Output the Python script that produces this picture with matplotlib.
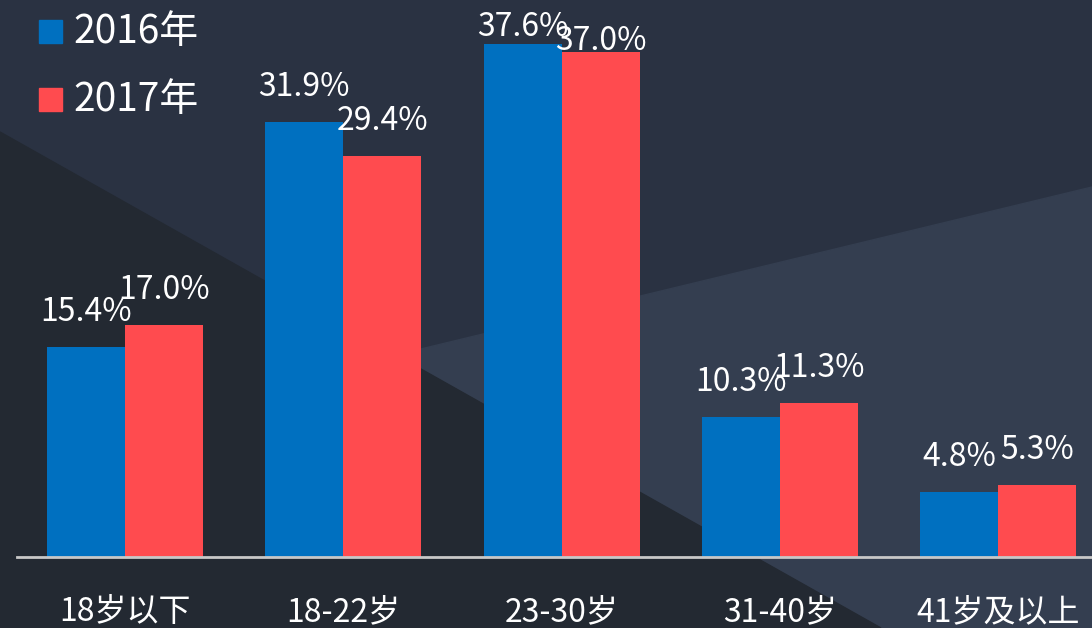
import numpy as np
import matplotlib
matplotlib.use('Agg')
import matplotlib.pyplot as plt
from matplotlib.patches import Polygon, Rectangle

plt.rcParams['font.family'] = ['Noto Sans CJK SC', 'DejaVu Sans']

categories = ['18岁以下', '18-22岁', '23-30岁', '31-40岁', '41岁及以上']
v2016 = [15.4, 31.9, 37.6, 10.3, 4.8]
v2017 = [17.0, 29.4, 37.0, 11.3, 5.3]
series_names = ['2016年', '2017年']
colors = ['#0070c0', '#ff4b4f']

W, H = 1092, 628
fig = plt.figure(figsize=(W / 100, H / 100), dpi=100)
fig.patch.set_facecolor('#2a3242')

# background shapes on a pixel-scaled axes behind everything
bg = fig.add_axes([0, 0, 1, 1], zorder=0)
bg.set_xlim(0, W)
bg.set_ylim(H, 0)
bg.axis('off')
bg.add_patch(Polygon([(396, 355), (1092, 187), (1092, 628), (881, 628)], closed=True, color='#343e50'))
bg.add_patch(Polygon([(0, 132), (881, 628), (0, 628)], closed=True, color='#232932'))

# legend
for i, (name, c) in enumerate(zip(series_names, colors)):
    top = 20 + i * 68
    bg.add_patch(Rectangle((39, top), 23, 23, color=c))
    bg.text(73, top + 11.5, name, color='white', fontsize=28, ha='left', va='center')

ax = fig.add_axes([17 / W, 1 - 557 / H, 1075 / W, 557 / H], zorder=1)
ax.set_facecolor('none')

x = np.arange(len(categories))
w = 0.357
b1 = ax.bar(x - w / 2, v2016, w, color=colors[0], zorder=2)
b2 = ax.bar(x + w / 2, v2017, w, color=colors[1], zorder=2)

ax.set_xlim(-0.495, 4.43)
ax.set_ylim(0, 40.84)

# value labels
caps = [38.2, 37.2]
for vals, cap, off in [(v2016, caps[0], -w / 2), (v2017, caps[1], w / 2)]:
    for xi, v in zip(x, vals):
        ax.text(xi + off, min(v + 1.9, cap), f'{v:.1f}%', ha='center', va='baseline',
                color='white', fontsize=23, zorder=3, clip_on=False)

for s in ['top', 'left', 'right']:
    ax.spines[s].set_visible(False)
ax.spines['bottom'].set_color('#c8c8c8')
ax.spines['bottom'].set_linewidth(2)
ax.set_yticks([])
ax.set_xticks(x)
ax.set_xticklabels(categories, color='white', fontsize=23)
ax.tick_params(axis='x', length=0, pad=28)

fig.savefig('out.png', dpi=100, facecolor=fig.get_facecolor())
